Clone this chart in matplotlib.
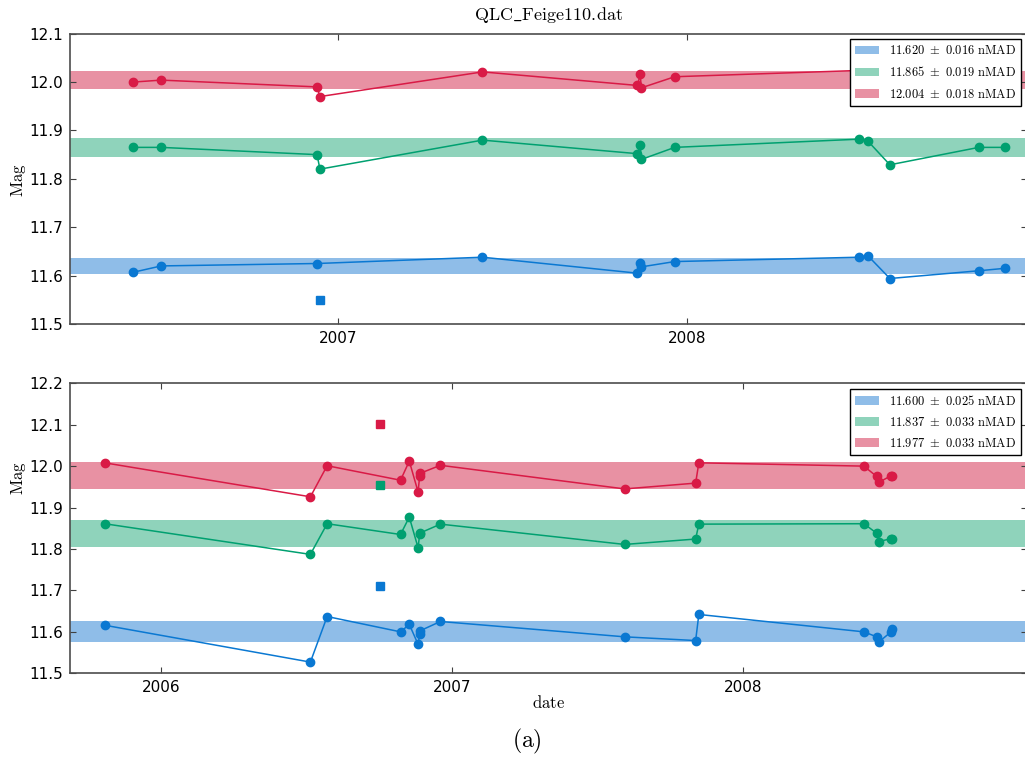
import matplotlib
matplotlib.use('Agg')
import matplotlib.pyplot as plt
import matplotlib.dates as mdates
import pandas as pd

plt.rcParams['mathtext.fontset'] = 'cm'

# --- painel superior ---
datas_sup = ['2006-06-01', '2006-06-30', '2006-12-10', '2006-12-13', '2007-06-01',
             '2007-11-10', '2007-11-13', '2007-11-14', '2007-12-19', '2008-06-29',
             '2008-07-08', '2008-07-31', '2008-11-01', '2008-11-28']
mag_verm_sup = [12.000, 12.004, 11.990, 11.970, 12.021, 11.993, 12.016, 11.988,
                12.011, 12.024, 12.022, 12.000, 12.020, 12.025]
mag_verde_sup = [11.865, 11.865, 11.850, 11.820, 11.880, 11.852, 11.869, 11.840,
                 11.865, 11.882, 11.878, 11.829, 11.865, 11.865]
datas_azul_sup = ['2006-06-01', '2006-06-30', '2006-12-10', '2007-06-01',
                  '2007-11-10', '2007-11-13', '2007-11-14', '2007-12-19', '2008-06-29',
                  '2008-07-08', '2008-07-31', '2008-11-01', '2008-11-28']
mag_azul_sup = [11.607, 11.620, 11.625, 11.638, 11.605, 11.627, 11.618, 11.629,
                11.638, 11.641, 11.594, 11.610, 11.615]
datas_out_sup = ['2006-12-13']
out_azul_sup = [11.550]
media_sup = [11.620, 11.865, 12.004]
nmad_sup = [0.016, 0.019, 0.018]

# --- painel inferior ---
datas_inf = ['2005-10-22', '2006-07-07', '2006-07-28', '2006-10-28', '2006-11-08',
             '2006-11-19', '2006-11-21', '2006-11-22', '2006-12-17', '2007-08-05',
             '2007-11-02', '2007-11-06', '2008-05-31', '2008-06-16', '2008-06-19',
             '2008-07-04', '2008-07-05']
mag_verm_inf = [12.008, 11.926, 12.001, 11.966, 12.012, 11.938, 11.976, 11.983,
                12.002, 11.945, 11.959, 12.008, 12.000, 11.975, 11.961, 11.977, 11.975]
mag_verde_inf = [11.861, 11.787, 11.861, 11.835, 11.877, 11.803, 11.836, 11.839,
                 11.860, 11.811, 11.824, 11.860, 11.861, 11.838, 11.818, 11.825, 11.823]
mag_azul_inf = [11.616, 11.527, 11.637, 11.600, 11.618, 11.570, 11.594, 11.603,
                11.625, 11.588, 11.579, 11.642, 11.600, 11.588, 11.576, 11.600, 11.606]
datas_out_inf = ['2006-10-02']
out_verm_inf = [12.102]
out_verde_inf = [11.955]
out_azul_inf = [11.711]
media_inf = [11.600, 11.837, 11.977]
nmad_inf = [0.025, 0.033, 0.033]

cores = ['#0a78d2', '#00a070', '#d91a46']
cores_faixa = ['#8fbde8', '#8fd3bb', '#e891a3']


def desenhar(ax, series, outliers, medias, nmads, xlim, ylim):
    # faixas media +- nMAD
    for m, s, cf in zip(medias, nmads, cores_faixa):
        ax.axhspan(m - s, m + s, color=cf, lw=0, zorder=1,
                   label=r'$%.3f\ \pm\ %.3f\ \mathrm{nMAD}$' % (m, s))
    for (datas, mags), c in zip(series, cores):
        ax.plot(pd.to_datetime(datas), mags, '-o', color=c, lw=1.1, ms=6,
                mec=c, zorder=3)
    for datas, mags, c in outliers:
        ax.plot(pd.to_datetime(datas), mags, 's', color=c, ms=6, mec=c, zorder=3)
    ax.set_xlim(pd.to_datetime(xlim[0]), pd.to_datetime(xlim[1]))
    ax.set_ylim(*ylim)
    ax.xaxis.set_major_locator(mdates.YearLocator())
    ax.xaxis.set_major_formatter(mdates.DateFormatter('%Y'))
    ax.tick_params(direction='in', length=4, width=0.8, top=True, right=True,
                   labelsize=11, pad=5, color='0.25')
    for sp in ax.spines.values():
        sp.set_color('0.3')
        sp.set_linewidth(1.2)
    leg = ax.legend(loc='upper right', fontsize=9, fancybox=False,
                    framealpha=1, edgecolor='black', handlelength=1.9,
                    handleheight=0.7, borderaxespad=0.45, labelspacing=0.65)
    leg.get_frame().set_linewidth(1.0)
    leg.set_zorder(5)


fig = plt.figure(figsize=(10.25, 7.6), dpi=100)
ax1 = fig.add_axes([0.0686, 0.5737, 0.9330, 0.3820])
ax2 = fig.add_axes([0.0686, 0.1141, 0.9330, 0.3816])

desenhar(ax1,
         [(datas_azul_sup, mag_azul_sup), (datas_sup, mag_verde_sup), (datas_sup, mag_verm_sup)],
         [(datas_out_sup, out_azul_sup, cores[0])],
         media_sup, nmad_sup, ('2006-03-27', '2008-12-21'), (11.5, 12.1))
desenhar(ax2,
         [(datas_inf, mag_azul_inf), (datas_inf, mag_verde_inf), (datas_inf, mag_verm_inf)],
         [(datas_out_inf, out_verm_inf, cores[2]), (datas_out_inf, out_verde_inf, cores[1]),
          (datas_out_inf, out_azul_inf, cores[0])],
         media_inf, nmad_inf, ('2005-09-09', '2008-12-21'), (11.5, 12.2))

fig.text(0.535, 0.980, r'$\mathrm{QLC\_Feige110.\!dat}$', ha='center', va='center', fontsize=13)
fig.text(0.0176, 0.763, r'$\mathrm{Mag}$', rotation=90, ha='center', va='center', fontsize=12)
fig.text(0.0176, 0.371, r'$\mathrm{Mag}$', rotation=90, ha='center', va='center', fontsize=12)
fig.text(0.535, 0.075, r'$\mathrm{date}$', ha='center', va='center', fontsize=12)
fig.text(0.514, 0.024, r'$\mathrm{(a)}$', ha='center', va='center', fontsize=17)

fig.savefig('out.png', dpi=100)
